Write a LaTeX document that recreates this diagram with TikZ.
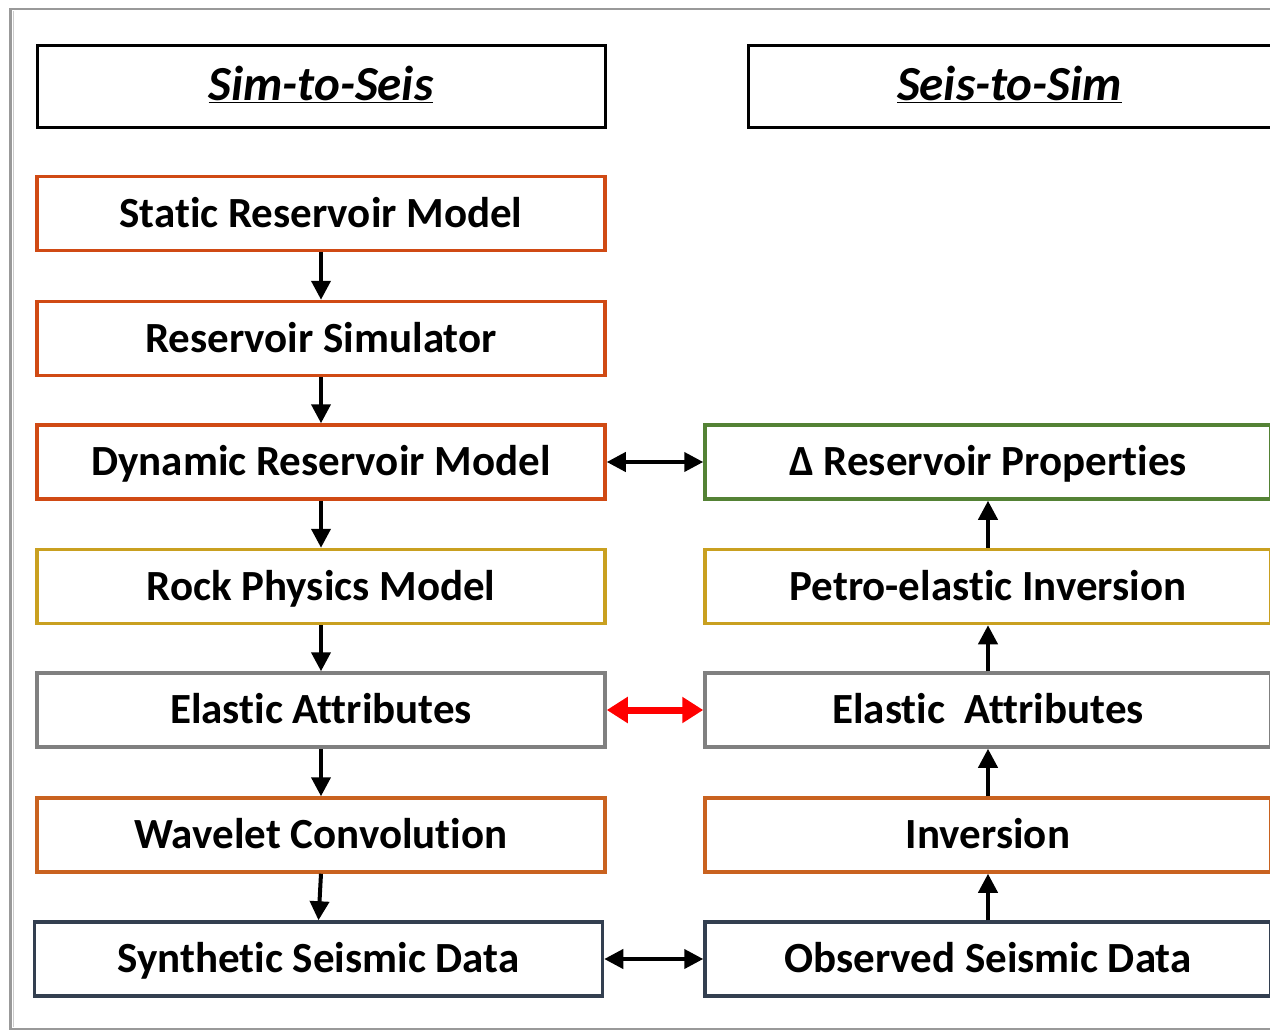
\documentclass[tikz,border=0pt]{standalone}
\usepackage{fontspec}
\setmainfont[Ligatures={NoCommon}]{Carlito}
\usetikzlibrary{arrows.meta}
\definecolor{cRed}{HTML}{D04A14}
\definecolor{cOrange}{HTML}{C9621F}
\definecolor{cGold}{HTML}{C9A020}
\definecolor{cGray}{HTML}{808080}
\definecolor{cGreen}{HTML}{548235}
\definecolor{cNavy}{HTML}{333F50}
\tikzset{
  box/.style={draw, line width=3.5pt, minimum height=74pt, inner sep=0pt, font=\fontsize{43}{50}\selectfont\bfseries, text=black, fill=white, text height=36.5pt, text depth=9pt},
  lbox/.style={box, minimum width=568pt},
  rbox/.style={box, minimum width=566pt},
  tbox/.style={draw=black, line width=3pt, minimum height=82pt, inner sep=0pt, font=\fontsize{49}{58}\selectfont\bfseries\itshape, text height=40pt, text depth=12pt},
  arr/.style={line width=4pt, -{Triangle[length=19pt,width=19pt]}},
  darr/.style={line width=4pt, {Triangle[length=19pt,width=19pt]}-{Triangle[length=19pt,width=19pt]}},
  rarr/.style={draw=red, line width=7pt, {Triangle[length=21pt,width=25pt]}-{Triangle[length=21pt,width=25pt]}},
}
\begin{document}
\begin{tikzpicture}[x=1pt,y=-1pt]
\useasboundingbox (0,0) rectangle (1270,1031);
\fill[white] (0,0) rectangle (1270,1031);
\draw[gray!80, line width=2.5pt] (1290,9) -- (10.5,9) -- (10.5,1029) -- (1290,1029);
\draw[gray!40, line width=1.5pt] (13.5,11) -- (13.5,1027);
% titles
\node[tbox, minimum width=568pt] (t1) at (321,86) {\underline{Sim-to-Seis}};
\node[tbox, minimum width=523pt] (t2) at (1009.5,86) {\underline{Seis-to-Sim}};
% left column
\node[lbox, draw=cRed] (a1) at (321,213.5) {Static Reservoir Model};
\node[lbox, draw=cRed] (a2) at (321,338.5) {Reservoir Simulator};
\node[lbox, draw=cRed] (a3) at (321,462) {Dynamic Reservoir Model};
\node[lbox, draw=cGold] (a4) at (321,586.5) {Rock Physics Model};
\node[lbox, draw=cGray] (a5) at (321,710) {Elastic Attributes};
\node[lbox, draw=cOrange] (a6) at (321,835) {Wavelet Convolution};
\node[lbox, draw=cNavy] (a7) at (318.5,959) {Synthetic Seismic Data};
% right column
\node[rbox, draw=cGreen] (b3) at (988,462) {Δ Reservoir Properties};
\node[rbox, draw=cGold] (b4) at (988,586.5) {Petro-elastic Inversion};
\node[rbox, draw=cGray] (b5) at (988,710) {Elastic\ \ Attributes};
\node[rbox, draw=cOrange] (b6) at (988,835) {Inversion};
\node[rbox, draw=cNavy] (b7) at (988,959) {Observed Seismic Data};
% left arrows
\draw[arr] (a1.south) -- (a2.north);
\draw[arr] (a2.south) -- (a3.north);
\draw[arr] (a3.south) -- (a4.north);
\draw[arr] (a4.south) -- (a5.north);
\draw[arr] (a5.south) -- (a6.north);
\draw[arr] (a6.south) -- (a7.north);
% right arrows
\draw[arr] (b7.north) -- (b6.south);
\draw[arr] (b6.north) -- (b5.south);
\draw[arr] (b5.north) -- (b4.south);
\draw[arr] (b4.north) -- (b3.south);
% horizontal
\draw[darr] (a3.east) -- (b3.west);
\draw[rarr] (a5.east) -- (b5.west);
\draw[darr] (a7.east) -- (b7.west);
\end{tikzpicture}
\end{document}
